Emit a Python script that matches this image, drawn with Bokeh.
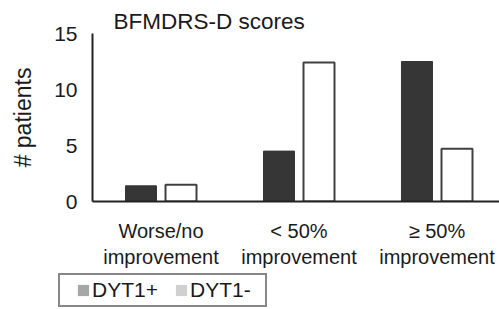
from bokeh.plotting import figure
from bokeh.layouts import column
from bokeh.models import (ColumnDataSource, Range1d, FixedTicker, Legend, LegendItem)
from bokeh.transform import dodge
from bokeh.embed import file_html
from bokeh.resources import INLINE

categories = ["Worse/no\nimprovement", "< 50%\nimprovement", "\u2265 50%\nimprovement"]
dyt1_pos = [1.4, 4.5, 12.5]
dyt1_neg = [1.5, 12.4, 4.7]
y_ticks = [0, 5, 10, 15]
series_names = ["DYT1+", "DYT1-"]
title_text = "BFMDRS-D scores"
y_label = "# patients"

FONT = "Liberation Sans"
TXT = "#1a1a1a"

src = ColumnDataSource(dict(x=list(range(len(categories))), pos=dyt1_pos, neg=dyt1_neg))

p = figure(width=499, height=273, output_backend="svg", toolbar_location=None,
           x_range=Range1d(-0.4964, 2.453), y_range=Range1d(0, 15),
           min_border_left=92, min_border_right=0, min_border_top=33, min_border_bottom=72)
p.frame_align = False
p.outline_line_color = None
p.xgrid.visible = False
p.ygrid.visible = False

p.title.text = title_text
p.title.align = "left"
p.title.offset = 21
p.title.standoff = 0
p.title.text_font = FONT
p.title.text_font_size = "22.5px"
p.title.text_font_style = "normal"
p.title.text_color = TXT

r_pos = p.vbar(x=dodge("x", -0.145, range=p.x_range), top="pos", width=0.2246, source=src,
               fill_color="#363636", line_color="#363636", line_width=1)
r_neg = p.vbar(x=dodge("x", 0.145, range=p.x_range), top="neg", width=0.2246, source=src,
               fill_color="white", line_color="#404040", line_width=2)

# x axis
xa = p.xaxis[0]
xa.ticker = FixedTicker(ticks=list(range(len(categories))))
xa.major_label_overrides = {i: c for i, c in enumerate(categories)}
xa.major_tick_line_color = None
xa.minor_tick_line_color = None
xa.axis_line_width = 2
xa.axis_line_color = "#222222"
xa.major_label_text_font = FONT
xa.major_label_text_font_size = "20px"
xa.major_label_text_color = TXT
xa.major_label_standoff = 12

# y axis
ya = p.yaxis[0]
ya.ticker = FixedTicker(ticks=y_ticks)
ya.major_tick_line_color = None
ya.minor_tick_line_color = None
ya.axis_line_width = 2
ya.axis_line_color = "#222222"
ya.major_label_text_font = FONT
ya.major_label_text_font_size = "21px"
ya.major_label_text_color = TXT
ya.major_label_standoff = 9
ya.axis_label = y_label
ya.axis_label_text_font = FONT
ya.axis_label_text_font_size = "23px"
ya.axis_label_text_font_style = "normal"
ya.axis_label_text_color = TXT
ya.axis_label_standoff = 15

# legend strip below the chart (its box is cut by the bottom edge, as in the reference)
p2 = figure(width=499, height=36, output_backend="svg", toolbar_location=None,
            x_range=Range1d(0, 1), y_range=Range1d(0, 1), x_axis_type=None, y_axis_type=None,
            min_border_left=0, min_border_right=0, min_border_top=0, min_border_bottom=0)
p2.frame_align = False
p2.outline_line_color = None
p2.xgrid.visible = False
p2.ygrid.visible = False
d_pos = p2.vbar(x=[5], top=[0], width=0.1, fill_color="#a6a6a6", line_color=None)
d_neg = p2.vbar(x=[5], top=[0], width=0.1, fill_color="#d0d0d0", line_color=None)
legend = Legend(items=[LegendItem(label=series_names[0], renderers=[d_pos]),
                       LegendItem(label=series_names[1], renderers=[d_neg])],
                orientation="horizontal", location=(58, 2),
                title=" ", title_location="left", title_text_font_size="1px", title_standoff=12,
                label_text_font=FONT, label_text_font_size="21px", label_text_color=TXT,
                glyph_width=14, glyph_height=14, label_standoff=2, spacing=10, label_width=72,
                padding=3, margin=0, border_line_color="#111111", border_line_width=2,
                background_fill_alpha=1)
p2.add_layout(legend, "center")

layout = column(p, p2, spacing=0)
open("out.html", "w").write(file_html(layout, INLINE))
